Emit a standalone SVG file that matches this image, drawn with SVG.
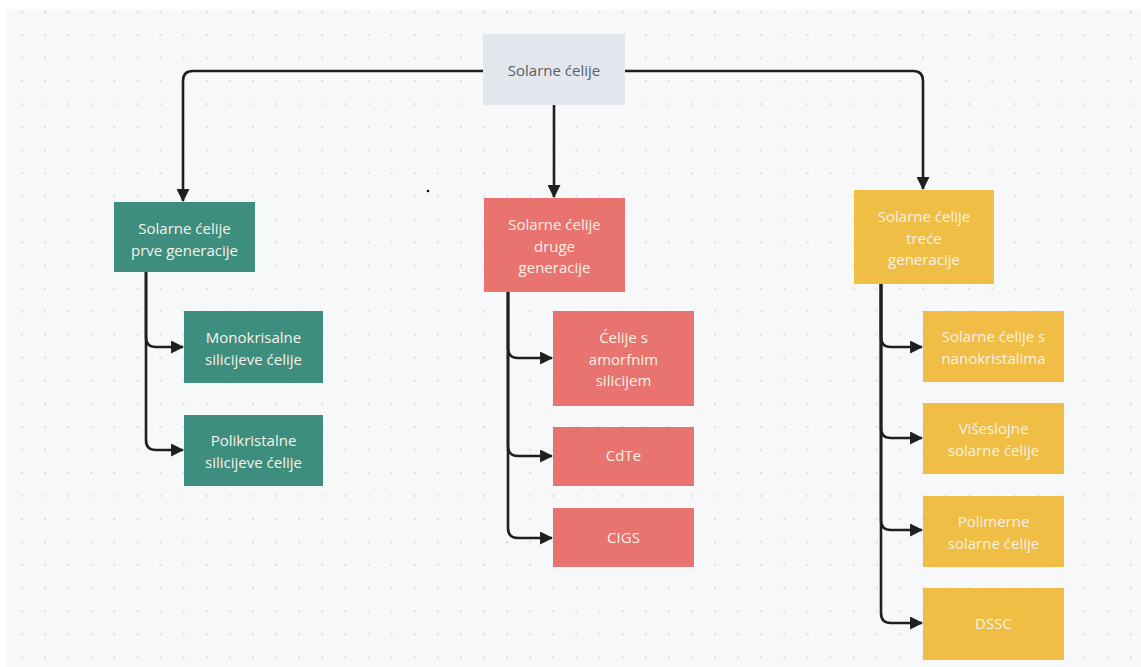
<svg xmlns="http://www.w3.org/2000/svg" width="1141" height="667" viewBox="0 0 1141 667">
<defs>
<pattern id="dots" patternUnits="userSpaceOnUse" x="10.45" y="0.5" width="23.1" height="23.05">
<circle cx="11.55" cy="11.5" r="1.1" fill="#d6d9de"/>
</pattern>
<marker id="arr" viewBox="0 0 10 10" refX="9" refY="5" markerWidth="5" markerHeight="5" markerUnits="userSpaceOnUse" orient="auto">
<path d="M0,0 L10,5 L0,10 Z" fill="#1f1f1f"/>
</marker>
<marker id="arrow" viewBox="0 0 12 12" refX="11" refY="6" markerWidth="13" markerHeight="13" markerUnits="userSpaceOnUse" orient="auto">
<path d="M0,0 L12,6 L0,12 Z" fill="#1f1f1f"/>
</marker>
<style>
.c{fill:none;stroke:#1f1f1f;stroke-width:2.6;marker-end:url(#arrow)}
.t{font-family:"Open Sans","Noto Sans",sans-serif;font-size:15px;text-anchor:middle}
.w{fill:#f7f2e6}
.root{fill:#e2e7ee}
.g{fill:#3e8e80}
.r{fill:#e8736f}
.y{fill:#f0bd45}
</style>
</defs>
<rect x="0" y="0" width="1141" height="667" fill="#ffffff"/>
<rect x="7" y="9" width="1134" height="658" fill="#f7f8fa"/>
<rect x="7" y="9" width="1134" height="658" fill="url(#dots)"/>
<circle cx="428" cy="191" r="1.3" fill="#111"/>

<g id="connectors">
<path class="c" d="M484,71 H193 Q183,71 183,81 V201"/>
<path class="c" d="M625,71 H913 Q923,71 923,81 V189"/>
<path class="c" d="M554,105 V197"/>
<path class="c" d="M146,272 V337 Q146,347 156,347 H183"/>
<path class="c" d="M146,272 V440 Q146,450 156,450 H183"/>
<path class="c" d="M508,292 V348 Q508,358 518,358 H552"/>
<path class="c" d="M508,292 V446 Q508,456 518,456 H552"/>
<path class="c" d="M508,292 V528 Q508,538 518,538 H552"/>
<path class="c" d="M881,284 V337 Q881,347 891,347 H922"/>
<path class="c" d="M881,284 V428 Q881,438 891,438 H922"/>
<path class="c" d="M881,284 V520 Q881,530 891,530 H922"/>
<path class="c" d="M881,284 V613 Q881,623 891,623 H922"/>
</g>

<g id="root">
<rect class="root" x="483" y="34" width="142" height="71"/>
<text class="t" x="554" y="76" fill="#5a5f66" font-size="16">Solarne ćelije</text>
</g>

<g id="gen1">
<rect class="g" x="114" y="202" width="141" height="70"/>
<text class="t w" x="184.5" y="234">Solarne ćelije</text>
<text class="t w" x="184.5" y="256">prve generacije</text>
</g>
<g id="mono">
<rect class="g" x="184" y="311" width="139" height="72"/>
<text class="t w" x="253.5" y="343">Monokrisalne</text>
<text class="t w" x="253.5" y="365">silicijeve ćelije</text>
</g>
<g id="poli">
<rect class="g" x="184" y="415" width="139" height="71"/>
<text class="t w" x="253.5" y="446">Polikristalne</text>
<text class="t w" x="253.5" y="468">silicijeve ćelije</text>
</g>

<g id="gen2">
<rect class="r" x="484" y="198" width="141" height="94"/>
<text class="t w" x="554.5" y="230">Solarne ćelije</text>
<text class="t w" x="554.5" y="252">druge</text>
<text class="t w" x="554.5" y="273">generacije</text>
</g>
<g id="amorf">
<rect class="r" x="553" y="311" width="141" height="95"/>
<text class="t w" x="623.5" y="343">Ćelije s</text>
<text class="t w" x="623.5" y="365">amorfnim</text>
<text class="t w" x="623.5" y="386">silicijem</text>
</g>
<g id="cdte">
<rect class="r" x="553" y="427" width="141" height="59"/>
<text class="t w" x="623.5" y="461">CdTe</text>
</g>
<g id="cigs">
<rect class="r" x="553" y="508" width="141" height="59"/>
<text class="t w" x="623.5" y="543">CIGS</text>
</g>

<g id="gen3">
<rect class="y" x="854" y="190" width="140" height="94"/>
<text class="t w" x="924" y="222">Solarne ćelije</text>
<text class="t w" x="924" y="244">treće</text>
<text class="t w" x="924" y="265">generacije</text>
</g>
<g id="nano">
<rect class="y" x="923" y="311" width="141" height="71"/>
<text class="t w" x="993.5" y="342">Solarne ćelije s</text>
<text class="t w" x="993.5" y="364">nanokristalima</text>
</g>
<g id="visesl">
<rect class="y" x="923" y="403" width="141" height="71"/>
<text class="t w" x="993.5" y="434">Višeslojne</text>
<text class="t w" x="993.5" y="456">solarne ćelije</text>
</g>
<g id="polimer">
<rect class="y" x="923" y="496" width="141" height="71"/>
<text class="t w" x="993.5" y="527">Polimerne</text>
<text class="t w" x="993.5" y="549">solarne ćelije</text>
</g>
<g id="dssc">
<rect class="y" x="923" y="588" width="141" height="72"/>
<text class="t w" x="993.5" y="629">DSSC</text>
</g>
</svg>
